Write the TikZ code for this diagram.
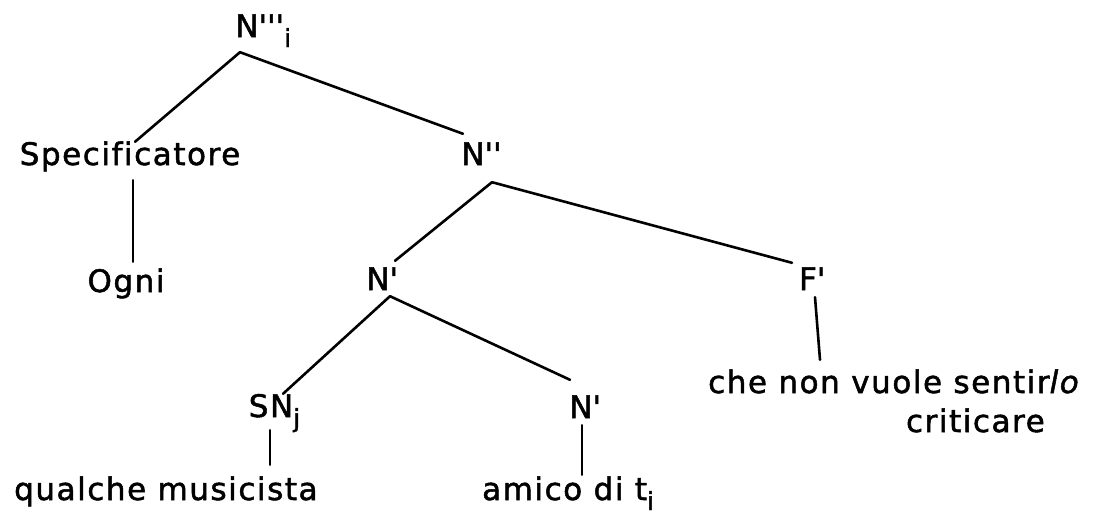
\documentclass[tikz,border=0pt]{standalone}
\usepackage{fontspec}
\setmainfont{DejaVu Sans}[LetterSpace=5,FakeBold=1.6,Ligatures=NoCommon]
\usepackage{tikz}
\newcommand{\pr}{\textquotesingle}
\newcommand{\idx}[1]{\raisebox{-10pt}{\fontsize{25}{25}\selectfont #1}}
\tikzset{
  lbl/.style={inner sep=0pt,anchor=base,text height=23pt,text depth=0pt,
    font=\fontsize{31}{37}\selectfont},
  edge/.style={draw=black,line width=2.6pt,line cap=round},
}

\begin{document}
\begin{tikzpicture}[x=1pt,y=-1pt]
  \useasboundingbox[fill=white] (0,0) rectangle (1099,515);
  % labels of the tree
  \node[lbl] (top) at (247,37) {N\rlap{\pr\pr\pr\idx{i}}};
  \node[lbl] (spec) at (130,165) {Specificatore};
  \node[lbl] (nbar2) at (473,165) {N\rlap{\pr\pr}};
  \node[lbl] (ogni) at (126,292) {Ogni};
  \node[lbl] (nbar1) at (378,290) {N\rlap{\pr}};
  \node[lbl] (fbar) at (808,290) {F\rlap{\pr}};
  \node[lbl] (snj) at (271,417) {SN\rlap{\idx{j}}};
  \node[lbl] (nbar0) at (581,418) {N\rlap{\pr}};
  \node[lbl,anchor=base west] (che) at (708,393) {che non vuole sentir\textit{lo}};
  \node[lbl,anchor=base east] (crit) at (1045,432) {criticare};
  \node[lbl,anchor=base west] (qual) at (14,500) {qualche musicista};
  \node[lbl,anchor=base west] (amico) at (482,500) {amico di t\idx{i}};
  % branches
  \draw[edge] ([shift={(-7pt,-15pt)}]top.south) -- ([xshift=5pt]spec.north);
  \draw[edge] ([shift={(-7pt,-15pt)}]top.south) -- ([shift={(-10pt,8pt)}]nbar2.north);
  \draw[edge] ([shift={(3pt,-15pt)}]spec.south) -- ([shift={(7pt,7pt)}]ogni.north);
  \draw[edge] ([shift={(19pt,-17pt)}]nbar2.south) -- ([shift={(17pt,6pt)}]nbar1.north);
  \draw[edge] ([shift={(19pt,-17pt)}]nbar2.south) -- ([shift={(-16pt,4pt)}]fbar.north);
  \draw[edge] ([shift={(12pt,-6pt)}]nbar1.south) -- ([xshift=12pt]snj.north);
  \draw[edge] ([shift={(12pt,-6pt)}]nbar1.south) -- ([shift={(-11pt,15pt)}]nbar0.north);
  \draw[edge] ([shift={(7pt,-7pt)}]fbar.south) -- ([shift={(112pt,10pt)}]che.north west);
  \draw[edge] ([shift={(-1pt,-13pt)}]snj.south) -- ([shift={(256pt,12pt)}]qual.north west);
  \draw[edge] ([shift={(1pt,-7pt)}]nbar0.south) -- ([shift={(100pt,2pt)}]amico.north west);
\end{tikzpicture}
\end{document}
